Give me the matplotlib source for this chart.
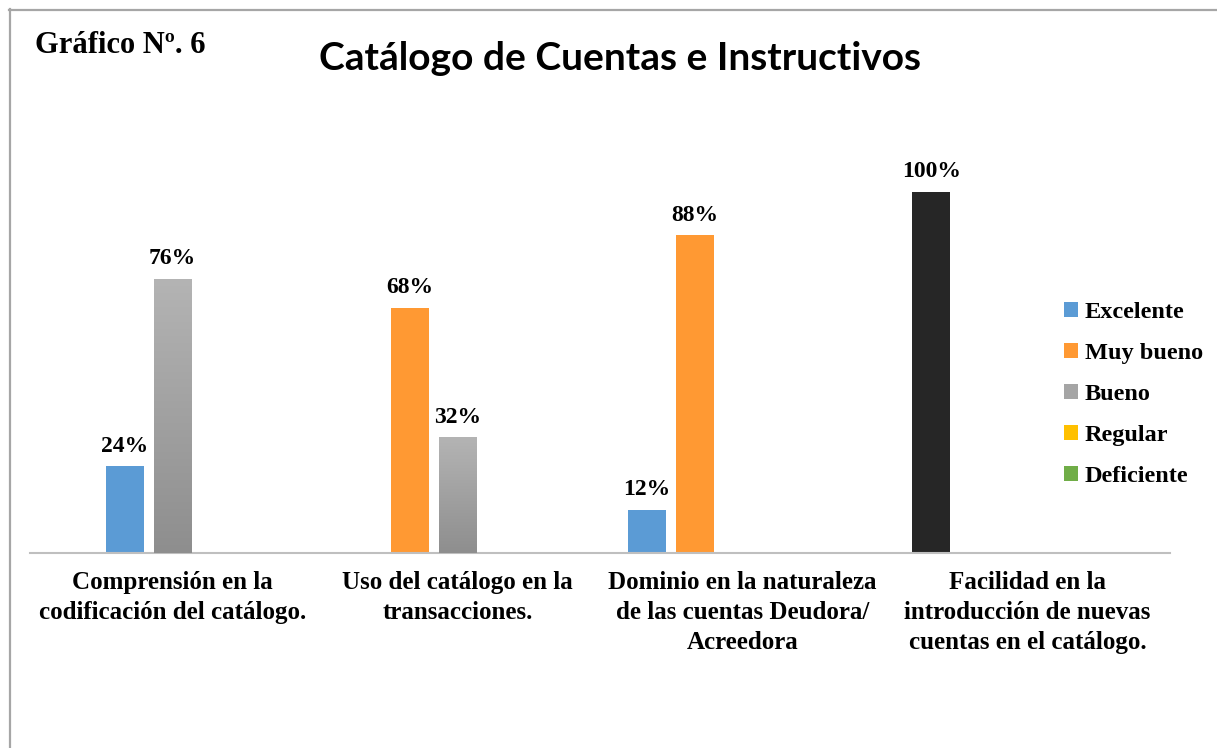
import numpy as np
import matplotlib
matplotlib.use("Agg")
import matplotlib.pyplot as plt
from matplotlib.patches import Patch
from matplotlib.lines import Line2D

# ---------------- data ----------------
categories = [
    "Comprensión en la\ncodificación del catálogo.",
    "Uso del catálogo en la\ntransacciones.",
    "Dominio en la naturaleza\nde las cuentas Deudora/\nAcreedora",
    "Facilidad en la\nintroducción de nuevas\ncuentas en el catálogo.",
]
# values per series slot (as laid out in the original workbook)
series1 = [0, 0, 12, 100]
series2 = [24, 68, 88, 0]
series3 = [76, 32, 0, 0]
series4 = [0, 0, 0, 0]
series5 = [0, 0, 0, 0]
legend_labels = ["Excelente", "Muy bueno", "Bueno", "Regular", "Deficiente"]

title = "Catálogo de Cuentas e Instructivos"
subtitle = "Gráfico Nº. 6"

# ---------------- styles ----------------
BLUE = "#5B9BD5"
ORANGE = "#FF9933"
GRAY = "#A5A5A5"
YELLOW = "#FFC000"
GREEN = "#70AD47"
BLACK = "#262626"
legend_colors = [BLUE, ORANGE, GRAY, YELLOW, GREEN]
point_colors = [
    [BLUE, BLUE, BLUE, BLACK],
    [BLUE, ORANGE, ORANGE, ORANGE],
    [GRAY, GRAY, GRAY, GRAY],
    [YELLOW] * 4,
    [GREEN] * 4,
]

SERIF = ["Liberation Serif", "DejaVu Serif"]
SANS = ["Lato", "DejaVu Sans"]

W, H = 1217, 748
fig = plt.figure(figsize=(W / 100, H / 100), dpi=100)
fig.patch.set_facecolor("white")

# axes: x 30..1170 px, baseline y=553, 100% at y=192
ax_left, ax_right = 30, 1170
y_base, y_top = 553, 192
ax = fig.add_axes([ax_left / W, (H - y_base) / H, (ax_right - ax_left) / W, (y_base - y_top) / H])
ax.set_xlim(-0.5, 3.5)
ax.set_ylim(0, 100)
ax.set_facecolor("none")
for s in ["top", "right", "left"]:
    ax.spines[s].set_visible(False)
ax.spines["bottom"].set_color("#BFBFBF")
ax.spines["bottom"].set_linewidth(1.5)
ax.set_yticks([])

all_series = [series1, series2, series3, series4, series5]
x = np.arange(len(categories))
pitch = 48 / 285
bw = 38 / 285
offsets = [(k - 2) * pitch for k in range(5)]

grad = np.linspace(0, 1, 256).reshape(-1, 1)
gray_cmap = matplotlib.colors.LinearSegmentedColormap.from_list("g", ["#8E8E8E", "#B4B4B4"])

for si, (vals, cols) in enumerate(zip(all_series, point_colors)):
    bars = ax.bar(x + offsets[si], vals, width=bw, color=cols, linewidth=0, zorder=2)
    for b, v, c in zip(bars, vals, cols):
        if v <= 0:
            continue
        if c == GRAY:
            bx, by = b.get_x(), b.get_y()
            im = ax.imshow(grad, cmap=gray_cmap, origin="lower", aspect="auto",
                           extent=[bx, bx + b.get_width(), by, by + b.get_height()], zorder=3)
            im.set_clip_path(b)
        ax.annotate(f"{v}%", (b.get_x() + b.get_width() / 2, v), xytext=(0, 7),
                    textcoords="offset points", ha="center", va="bottom",
                    fontsize=17, fontweight="bold", family=SERIF, color="#000000",
                    annotation_clip=False)

ax.set_xlim(-0.5, 3.5)
ax.set_ylim(0, 100)
ax.set_xticks(x)
ax.set_xticklabels(categories, fontsize=18, fontweight="bold", family=SERIF, linespacing=1.4)
ax.tick_params(axis="x", length=0, pad=13)

# legend
handles = [Patch(facecolor=c, edgecolor="none") for c in legend_colors]
leg = fig.legend(handles, legend_labels, loc="center left",
                 bbox_to_anchor=(1064 / W, (H - 394.5) / H), frameon=False,
                 prop={"family": SERIF, "weight": "bold", "size": 17.5},
                 handlelength=0.58, handleheight=0.58, handletextpad=0.28,
                 labelspacing=0.82, borderpad=0, borderaxespad=0)

# titles
fig.text(620 / W, (H - 70) / H, title, ha="center", va="baseline", fontsize=28,
         fontweight="bold", family=SANS)
fig.text(35 / W, (H - 53) / H, subtitle, ha="left", va="baseline", fontsize=22,
         fontweight="bold", family=SERIF)

# outer frame (top and left edges)
fig.add_artist(Line2D([9.5 / W, 9.5 / W], [0, (H - 9) / H], transform=fig.transFigure,
                      color="#A6A6A6", linewidth=1.6))
fig.add_artist(Line2D([9 / W, 1], [(H - 9.5) / H, (H - 9.5) / H], transform=fig.transFigure,
                      color="#A6A6A6", linewidth=1.6))

fig.savefig("out.png", dpi=100, facecolor="white")
